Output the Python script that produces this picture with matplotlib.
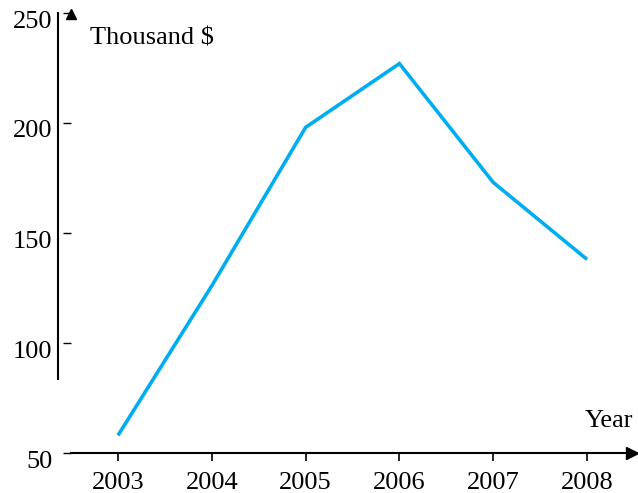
import matplotlib
matplotlib.use("Agg")
import matplotlib.pyplot as plt
from matplotlib.transforms import offset_copy, ScaledTranslation

years = [2003, 2004, 2005, 2006, 2007, 2008]
values = [58, 126, 198, 227, 173, 138]
yticks = [50, 100, 150, 200, 250]
y_unit = "Thousand $"
x_unit = "Year"

plt.rcParams['font.family'] = ['Liberation Serif', 'DejaVu Serif']
W, H = 638, 493
fig = plt.figure(figsize=(W / 100, H / 100), dpi=100)
ax = fig.add_axes([70.7 / W, 40 / H, (636 - 70.7) / W, 440 / H])

ax.plot(years, values, color='#00AEEF', lw=2.6, solid_joinstyle='miter', solid_capstyle='butt')

ax.set_xlim(2002.496, 2008.522)
ax.set_ylim(50, 250)
ax.set_xticks(years)
ax.set_yticks(yticks)

fs = 19
ax.tick_params(axis='x', direction='out', length=6, width=1.2, pad=8, labelsize=fs, color='black')
ax.tick_params(axis='y', direction='out', length=6, width=1.0, pad=7, labelsize=fs, color='black')

shift = ScaledTranslation(0, -6 / 100, fig.dpi_scale_trans)
for lab in ax.get_yticklabels():
    lab.set_transform(lab.get_transform() + shift)

for s in ['top', 'right']:
    ax.spines[s].set_visible(False)
ax.spines['left'].set_visible(False)
ax.spines['bottom'].set_linewidth(1.5)

# offset vertical axis line
tr = offset_copy(ax.get_yaxis_transform(), fig=fig, x=-12.5, y=0, units='dots')
ax.plot([0, 0], [83, 250.5], transform=tr, color='black', lw=1.5, clip_on=False, solid_capstyle='butt')

# arrows
trx = offset_copy(ax.transAxes, fig=fig, x=-4, y=0, units='dots')
ax.plot([1], [0], marker='>', markersize=9, color='black', transform=trx, clip_on=False)
tru = offset_copy(ax.transAxes, fig=fig, x=0, y=-1, units='dots')
ax.plot([0], [1], marker='^', markersize=7, color='black', transform=tru, clip_on=False)

fig.text(90 / W, 1 - 45 / H, y_unit, fontsize=fs, ha='left', va='baseline')
fig.text(633 / W, 1 - 427 / H, x_unit, fontsize=fs, ha='right', va='baseline')

fig.savefig('out.png', dpi=100)
